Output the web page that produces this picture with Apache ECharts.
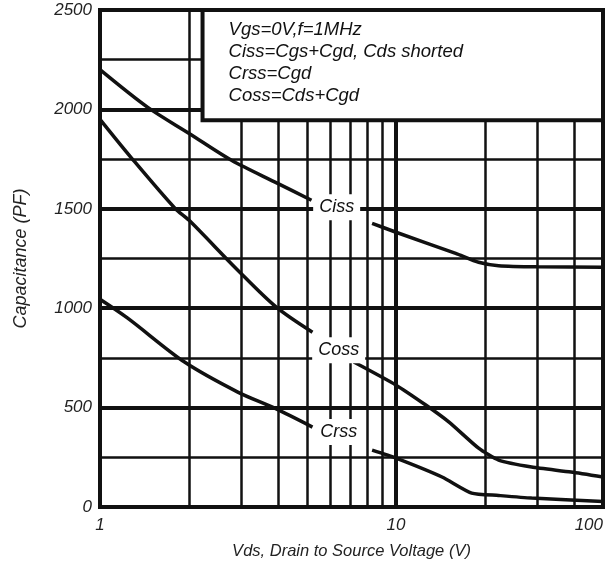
<!DOCTYPE html>
<html>
<head>
<meta charset="utf-8">
<script src="https://cdn.jsdelivr.net/npm/echarts@6/dist/echarts.min.js"></script>
<style>
  html, body { margin: 0; padding: 0; background: #fff; }
  #chart { width: 615px; height: 562px; }
</style>
</head>
<body>
<div id="chart"></div>
<script>
// x values are read against the printed log grid (gridlines 1..10, 20, 30, 40;
// the right edge of the plot, labelled "100", sits where 50 would fall)
const cissLeft = [[1, 2200], [1.45, 2010], [2, 1879], [2.78, 1744], [3.98, 1628], [5.18, 1543]]
const cissRight = [[8.3, 1427], [10, 1382], [15.9, 1276], [19, 1231], [22.2, 1214], [30, 1208], [50, 1206]]
const cossLeft = [[1, 1950], [1.28, 1754], [1.79, 1503], [2, 1442], [2.92, 1191], [3.94, 1005], [5.22, 879]]
const cossRight = [[7.2, 729], [10, 613], [12.6, 513], [15.1, 427], [19, 296], [22.2, 236], [28.7, 201], [39, 176], [50, 151]]
const crssLeft = [[1, 1045], [1.24, 950], [1.93, 729], [2.92, 578], [3.89, 497], [5.22, 402]]
const crssRight = [[8.3, 286], [10, 246], [14.3, 151], [18, 70], [22.2, 58], [28.7, 45], [50, 28]]

const curveNames = ['Ciss', 'Coss', 'Crss']
const curveLabelAt = [[6.3, 1508], [6.4, 789], [6.4, 377]]

const thinGridX = [2, 3, 4, 5, 6, 7, 8, 9, 20, 30, 40]
const thickGridX = [10]
const xTickText = { 1: '1', 10: '10', 50: '100' }

const noteLines = ['Vgs=0V,f=1MHz', 'Ciss=Cgs+Cgd, Cds shorted', 'Crss=Cgd', 'Coss=Cds+Cgd']
const noteBox = [[2.22, 1945], [50, 2500]]

const font = 'Liberation Sans, Arial, sans-serif'
const ink = '#111'

const chart = echarts.init(document.getElementById('chart'))

const curve = (data, smooth) => ({
  type: 'line',
  data: data,
  smooth: smooth,
  symbol: 'none',
  z: 4,
  lineStyle: { color: ink, width: 3.5 },
})

const option = {
  animation: false,
  backgroundColor: '#fff',
  grid: {
    left: 100,
    right: 12,
    top: 10,
    bottom: 55,
    outerBoundsMode: 'none',
    show: true,
    borderColor: ink,
    borderWidth: 4,
    backgroundColor: '#fff',
  },
  xAxis: {
    type: 'log',
    logBase: 10,
    min: 1,
    max: 50,
    name: 'Vds, Drain to Source Voltage (V)',
    nameLocation: 'middle',
    nameGap: 36,
    nameTextStyle: { fontFamily: font, fontStyle: 'italic', fontSize: 16.5, color: '#222' },
    axisLine: { show: false },
    axisTick: { show: false },
    splitLine: { show: false },
    axisLabel: {
      margin: 10,
      fontFamily: font,
      fontStyle: 'italic',
      fontSize: 17,
      color: '#222',
      alignMaxLabel: 'right',
      formatter: (v) => xTickText[Math.round(v)] || '',
    },
  },
  yAxis: {
    type: 'value',
    min: 0,
    max: 2500,
    interval: 500,
    name: 'Capacitance (PF)',
    nameLocation: 'middle',
    nameGap: 70,
    nameTextStyle: { fontFamily: font, fontStyle: 'italic', fontSize: 18, color: '#222' },
    axisLine: { show: false },
    axisTick: { show: false },
    axisLabel: {
      margin: 8,
      fontFamily: font,
      fontStyle: 'italic',
      fontSize: 17,
      color: '#222',
      formatter: (v) => String(v),
    },
    splitLine: { show: true, lineStyle: { color: ink, width: 4 } },
    minorTick: { show: false, splitNumber: 2 },
    minorSplitLine: { show: true, lineStyle: { color: ink, width: 2.5 } },
  },
  series: [
    {
      // vertical log gridlines
      type: 'line',
      data: [],
      z: 1,
      silent: true,
      markLine: {
        z: 1,
        silent: true,
        symbol: 'none',
        label: { show: false },
        animation: false,
        data: thinGridX.map((x) => ({ xAxis: x, lineStyle: { color: ink, width: 2.5, type: 'solid' } }))
          .concat(thickGridX.map((x) => ({ xAxis: x, lineStyle: { color: ink, width: 4, type: 'solid' } }))),
      },
    },
    {
      // note box in the upper right
      type: 'line',
      data: [],
      z: 3,
      silent: true,
      markArea: {
        z: 3,
        silent: true,
        itemStyle: { color: '#fff', opacity: 1, borderColor: ink, borderWidth: 4 },
        label: {
          show: true,
          position: 'insideTopLeft',
          distance: 0,
          padding: [11, 0, 0, 28],
          fontFamily: font,
          fontStyle: 'italic',
          fontSize: 18.5,
          lineHeight: 22,
          color: '#111',
          formatter: () => noteLines.join('\n'),
        },
        data: [[{ coord: noteBox[0] }, { coord: noteBox[1] }]],
      },
    },
    curve(cissLeft, 0.3),
    curve(cissRight, 0.2),
    curve(cossLeft, 0.3),
    curve(cossRight, 0.2),
    curve(crssLeft, 0.3),
    curve(crssRight, 0.2),
    {
      type: 'scatter',
      z: 6,
      symbolSize: 0,
      silent: true,
      data: curveLabelAt.map((p, i) => ({ value: p, name: curveNames[i] })),
      itemStyle: { opacity: 1 },
      label: {
        show: true,
        position: 'inside',
        formatter: (p) => p.name,
        backgroundColor: '#fff',
        padding: [4, 6],
        fontFamily: font,
        fontStyle: 'italic',
        fontSize: 18,
        color: '#111',
        opacity: 1,
      },
    },
  ],
}

chart.setOption(option)
</script>
</body>
</html>
